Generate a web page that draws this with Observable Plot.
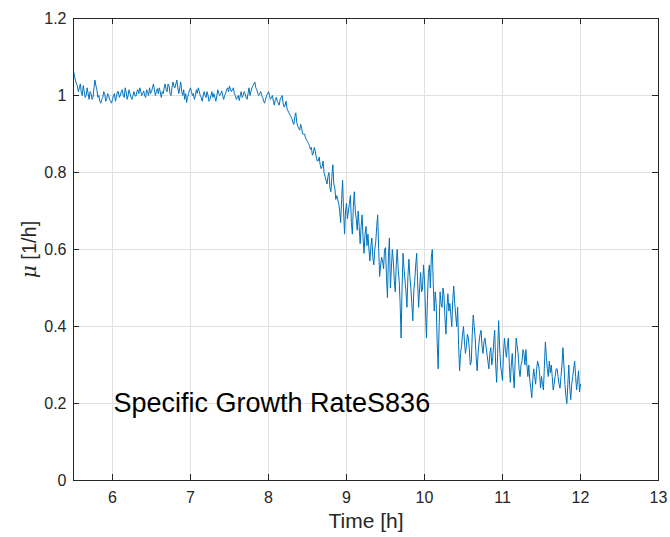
<!DOCTYPE html>
<html>
<head>
<meta charset="utf-8">
<script src="https://cdn.jsdelivr.net/npm/d3@7"></script>
<script src="https://cdn.jsdelivr.net/npm/@observablehq/plot@0.6"></script>
<style>
  html, body { margin: 0; padding: 0; background: #ffffff; }
  #chart { width: 670px; height: 537px; }
</style>
</head>
<body>
<div id="chart"></div>
<script>
// Specific growth rate mu [1/h]: samples on the 0.025 h grid from 5.5 h to 12.0 h ...
const startTime = 5.5;
const sampleStep = 0.0125;
const mu = [
  1.065, 1.04, 1.025, 1.02, 1.008, 1.026, 0.995, 1.02, 0.99, 1.005, 0.995, 1.04, 1.015, 1.0, 0.98, 0.995, 1.005, 0.99, 1.0, 0.985,
  0.99, 1.005, 0.995, 1.01, 1.0, 1.015, 0.995, 1.01, 1.0, 1.005, 0.99, 1.01, 0.998, 1.015, 1.02, 1.0, 1.012, 0.995, 1.008, 1.02,
  1.01, 1.03, 1.0, 1.018, 1.02, 0.995, 1.005, 1.03, 1.01, 1.025, 1.0, 1.035, 1.02, 1.04, 1.005, 1.035, 1.0, 0.99, 0.982, 1.005,
  1.02, 1.0, 0.99, 1.015, 1.02, 1.0, 0.985, 1.01, 0.995, 1.0, 0.99, 1.01, 1.005, 0.985, 1.015, 1.0, 1.012, 0.99, 1.005, 1.02,
  1.025, 1.01, 1.02, 1.0, 0.995, 0.987, 1.01, 1.0, 1.005, 0.99, 1.02, 1.01, 1.025, 1.035, 1.015, 1.0, 1.01, 0.995, 0.98, 1.0,
  1.01, 0.99, 1.0, 0.975, 0.995, 0.98, 0.99, 1.0, 0.97, 0.985, 0.96, 0.95, 0.94, 0.925, 0.955, 0.92, 0.91, 0.915, 0.9, 0.89,
  0.88, 0.87, 0.865, 0.85, 0.855, 0.83, 0.84, 0.81, 0.83, 0.79, 0.77, 0.8, 0.75, 0.82, 0.76, 0.74, 0.72, 0.67, 0.78, 0.64,
  0.72, 0.70, 0.74, 0.64, 0.75, 0.68, 0.70, 0.615, 0.69, 0.59, 0.66, 0.64, 0.57, 0.63, 0.56, 0.62, 0.69, 0.53, 0.58, 0.55,
  0.605, 0.475, 0.63, 0.55, 0.57, 0.49, 0.60, 0.52, 0.37, 0.59, 0.52, 0.45, 0.575, 0.50, 0.415, 0.52, 0.59, 0.45, 0.54, 0.50,
  0.52, 0.37, 0.54, 0.50, 0.60, 0.44, 0.46, 0.29, 0.49, 0.45, 0.48, 0.38, 0.485, 0.46, 0.40, 0.505, 0.43, 0.45, 0.285, 0.35,
  0.40, 0.33, 0.38, 0.34, 0.31, 0.43, 0.37, 0.285, 0.36, 0.39, 0.33, 0.37, 0.33, 0.29, 0.345, 0.32, 0.39, 0.255, 0.415, 0.30,
  0.26, 0.37, 0.32, 0.37, 0.255, 0.33, 0.24, 0.37, 0.33, 0.27, 0.31, 0.33, 0.34, 0.27, 0.26, 0.215, 0.29, 0.25, 0.31, 0.28,
  0.27, 0.235, 0.36, 0.29, 0.31, 0.30, 0.235, 0.27, 0.29, 0.25, 0.27, 0.345, 0.25, 0.20, 0.30, 0.21, 0.27, 0.31, 0.235, 0.285, 0.25
];
// ... and the samples that fall half-way between them (5.5125 h ... 11.9875 h)
const muMid = [
  1.05, 1.03, 1.01, 1.03, 1.0, 1.01, 1.0, 1.005, 1.01, 0.99, 1.02, 1.025, 0.995, 0.985, 0.99, 1.01, 0.985, 1.005, 0.99, 0.98,
  1.0, 0.985, 1.01, 0.995, 1.01, 1.0, 1.02, 0.99, 1.015, 0.995, 1.0, 1.0, 1.01, 1.005, 1.01, 1.005, 1.0, 1.015, 1.0, 1.005,
  1.02, 1.015, 1.01, 1.005, 1.01, 1.01, 1.02, 1.015, 1.03, 1.005, 1.02, 1.025, 1.03, 1.02, 1.02, 1.01, 1.015, 1.005, 0.995, 1.015,
  1.01, 1.005, 1.0, 1.005, 1.01, 0.995, 1.0, 1.0, 1.01, 0.985, 1.0, 0.995, 0.995, 1.0, 1.005, 1.005, 1.0, 1.0, 1.015, 1.01,
  1.015, 1.015, 1.005, 0.99, 1.0, 1.0, 0.995, 1.01, 0.995, 1.005, 1.0, 1.02, 1.03, 1.02, 1.005, 1.005, 1.0, 0.985, 0.99, 1.005,
  1.0, 0.995, 0.985, 0.99, 0.985, 0.975, 0.995, 0.98, 0.975, 0.965, 0.955, 0.945, 0.93, 0.945, 0.93, 0.915, 0.925, 0.9, 0.9, 0.885,
  0.875, 0.86, 0.845, 0.865, 0.84, 0.83, 0.82, 0.815, 0.8, 0.78, 0.79, 0.76, 0.79, 0.77, 0.73, 0.73, 0.7, 0.73, 0.7, 0.7,
  0.68, 0.72, 0.67, 0.71, 0.70, 0.65, 0.66, 0.66, 0.63, 0.64, 0.61, 0.6, 0.61, 0.58, 0.6, 0.66, 0.6, 0.56, 0.57, 0.6,
  0.53, 0.58, 0.5, 0.6, 0.52, 0.56, 0.55, 0.46, 0.5, 0.55, 0.49, 0.53, 0.53, 0.46, 0.49, 0.56, 0.51, 0.5, 0.49, 0.56,
  0.44, 0.47, 0.56, 0.58, 0.51, 0.49, 0.36, 0.4, 0.46, 0.5, 0.42, 0.45, 0.44, 0.43, 0.47, 0.46, 0.40, 0.35, 0.33, 0.38,
  0.36, 0.35, 0.37, 0.3, 0.38, 0.4, 0.32, 0.33, 0.38, 0.35, 0.36, 0.35, 0.31, 0.33, 0.3, 0.36, 0.3, 0.33, 0.35, 0.28,
  0.33, 0.34, 0.35, 0.3, 0.3, 0.28, 0.31, 0.35, 0.29, 0.3, 0.34, 0.3, 0.3, 0.3, 0.24, 0.26, 0.27, 0.29, 0.3, 0.24,
  0.25, 0.3, 0.32, 0.27, 0.28, 0.27, 0.25, 0.29, 0.27, 0.24, 0.3, 0.3, 0.22, 0.25, 0.24, 0.25, 0.29, 0.27, 0.26, 0.23
];
const xTicks = [6, 7, 8, 9, 10, 11, 12, 13];
const yTicks = [0, 0.2, 0.4, 0.6, 0.8, 1, 1.2];
const xDomain = [5.5, 13];
const yDomain = [0, 1.2];
const xLabel = "Time [h]";
const yLabel = "μ [1/h]";
const annotation = "Specific Growth RateS836";

// merge both sample sets in time order
const values = [];
mu.forEach((v, i) => { values.push(v); if (i < muMid.length) values.push(muMid[i]); });
const series = values.map((v, i) => ({time: +(startTime + i * sampleStep).toFixed(4), mu: v}));

const axisColor = "#262626";
const gridColor = "#e0e0e0";
const lineColor = "#0072BD";
const tickLen = 6;
const W = 670, H = 537;
const mL = 73, mR = 12, mT = 18, mB = 57;
const frameW = W - mL - mR, frameH = H - mT - mB;

const chart = Plot.plot({
  width: W,
  height: H,
  marginLeft: mL,
  marginRight: mR,
  marginTop: mT,
  marginBottom: mB,
  x: {domain: xDomain},
  y: {domain: yDomain},
  style: {fontFamily: "'Liberation Sans', Arial, Helvetica, sans-serif", fontSize: "16px", color: axisColor, background: "#ffffff"},
  marks: [
    Plot.ruleX(xTicks, {x: d => d, stroke: gridColor, strokeWidth: 1}),
    Plot.ruleY(yTicks, {y: d => d, stroke: gridColor, strokeWidth: 1}),
    Plot.line(series, {x: "time", y: "mu", stroke: lineColor, strokeWidth: 1}),
    Plot.text([annotation], {x: () => 6, y: () => 0.2, text: d => d, textAnchor: "start", fontSize: 27, fill: "#000000", dx: 1}),
    Plot.frame({stroke: axisColor, strokeWidth: 1}),
    Plot.ruleX(xTicks, {x: d => d, stroke: axisColor, insetTop: frameH - tickLen}),
    Plot.ruleX(xTicks, {x: d => d, stroke: axisColor, insetBottom: frameH - tickLen}),
    Plot.ruleY(yTicks, {y: d => d, stroke: axisColor, insetRight: frameW - tickLen}),
    Plot.ruleY(yTicks, {y: d => d, stroke: axisColor, insetLeft: frameW - tickLen}),
    Plot.axisX({ticks: xTicks, tickSize: 0, tickPadding: 11, label: null, fontSize: 16, fill: axisColor}),
    Plot.axisY({ticks: yTicks, tickSize: 0, tickPadding: 7, label: null, fontSize: 16, fill: axisColor, tickFormat: d => String(d)}),
    Plot.text([xLabel], {frameAnchor: "bottom", text: d => d, textAnchor: "middle", dy: 47, fontSize: 21, fill: axisColor}),
    Plot.text([yLabel], {frameAnchor: "left", text: d => d, textAnchor: "middle", dx: -44, rotate: -90, fontSize: 20, fill: axisColor})
  ]
});

// italic TeX-style mu in the y label
chart.querySelectorAll("text").forEach(t => {
  if (t.textContent === yLabel) {
    const rest = yLabel.slice(1);
    t.textContent = "";
    const a = document.createElementNS("http://www.w3.org/2000/svg", "tspan");
    a.setAttribute("font-style", "italic");
    a.setAttribute("font-family", "'DejaVu Serif', 'Liberation Serif', serif");
    a.textContent = yLabel[0];
    const b = document.createElementNS("http://www.w3.org/2000/svg", "tspan");
    b.textContent = rest;
    t.appendChild(a);
    t.appendChild(b);
  }
});

document.getElementById("chart").appendChild(chart);
</script>
</body>
</html>
